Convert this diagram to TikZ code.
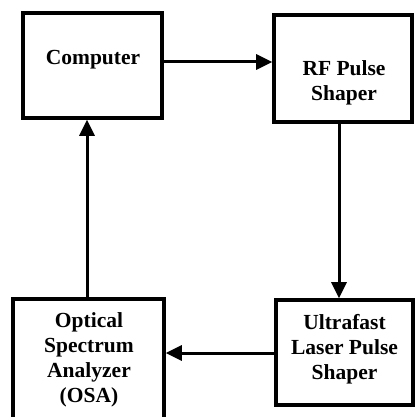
\documentclass[tikz,border=0pt]{standalone}
\usepackage{fontspec}
\setmainfont{Liberation Serif}
\usetikzlibrary{arrows.meta}
\tikzset{
  blockbox/.style={draw=black, line width=3.6pt, minimum width=#1, inner sep=0pt},
  lbl/.style={font=\bfseries\fontsize{21.5}{25}\selectfont, align=center, inner sep=0pt},
  arr/.style={line width=3pt, -{Triangle[length=16pt,width=15pt]}}
}
\begin{document}
\begin{tikzpicture}[x=1pt,y=-1pt]
\useasboundingbox (0,0) rectangle (417,417);
\fill[white] (0,0) rectangle (417,417);
% boxes
\node[blockbox=139pt, minimum height=105pt] (comp) at (92.5,65.5) {};
\node[blockbox=138pt, minimum height=107pt] (rf) at (343,68.5) {};
\node[blockbox=137pt, minimum height=105pt] (ultra) at (344.5,352.5) {};
\node[blockbox=151pt, minimum height=126pt] (osa) at (88.5,362) {};
% labels
\node[lbl] (tcomp) at (93,60) {Computer};
\node[lbl] (trf) at (344,83) {RF Pulse\\Shaper};
\node[lbl] (tultra) at (344.5,349) {Ultrafast\\Laser Pulse\\Shaper};
\node[lbl] (tosa) at (89,360) {Optical\\Spectrum\\Analyzer\\(OSA)};
% connectors
\draw[arr] (comp.east |- 0,62) -- (rf.west |- 0,62);
\draw[arr] (rf.south -| 339,0) -- (ultra.north -| 339,0);
\draw[arr] (ultra.west |- 0,353) -- (osa.east |- 0,353);
\draw[arr] (osa.north -| 87,0) -- (comp.south -| 87,0);
\end{tikzpicture}
\end{document}
